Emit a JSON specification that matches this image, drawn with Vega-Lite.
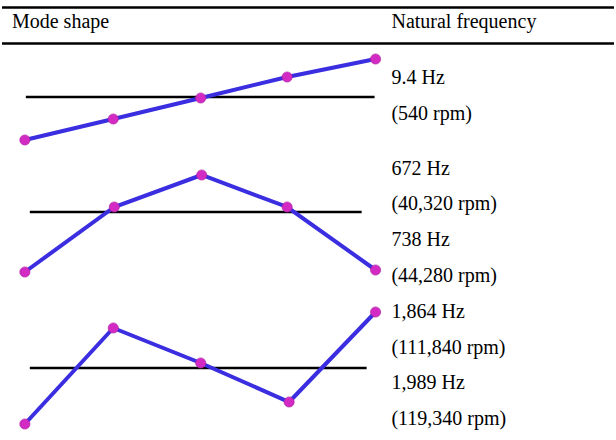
{
  "$schema": "https://vega.github.io/schema/vega-lite/v6.json",
  "width": 616,
  "height": 440,
  "padding": 0,
  "autosize": {"type": "fit", "contains": "padding"},
  "background": "white",
  "config": {"view": {"stroke": null}},
  "datasets": {
    "tableRules": [
      {"x": 0, "x2": 616, "y": 7.5},
      {"x": 0, "x2": 616, "y": 43.5}
    ],
    "zeroLines": [
      {"mode": 1, "x": 24, "x2": 375, "y": 97},
      {"mode": 2, "x": 28, "x2": 362, "y": 212},
      {"mode": 3, "x": 28, "x2": 367, "y": 368}
    ],
    "shapes": [
      {"mode": 1, "node": 1, "x": 23, "y": 140},
      {"mode": 1, "node": 2, "x": 112, "y": 119},
      {"mode": 1, "node": 3, "x": 200, "y": 98},
      {"mode": 1, "node": 4, "x": 287, "y": 77},
      {"mode": 1, "node": 5, "x": 376, "y": 59},
      {"mode": 2, "node": 1, "x": 23, "y": 272},
      {"mode": 2, "node": 2, "x": 113, "y": 207},
      {"mode": 2, "node": 3, "x": 201, "y": 175},
      {"mode": 2, "node": 4, "x": 287, "y": 207},
      {"mode": 2, "node": 5, "x": 376, "y": 270},
      {"mode": 3, "node": 1, "x": 23, "y": 424},
      {"mode": 3, "node": 2, "x": 112, "y": 328},
      {"mode": 3, "node": 3, "x": 200, "y": 363},
      {"mode": 3, "node": 4, "x": 289, "y": 402},
      {"mode": 3, "node": 5, "x": 376, "y": 312}
    ],
    "labels": [
      {"label": "Mode shape", "x": 10, "y": 28},
      {"label": "Natural frequency", "x": 392, "y": 28},
      {"label": "9.4 Hz", "x": 392, "y": 84},
      {"label": "(540 rpm)", "x": 392, "y": 120},
      {"label": "672 Hz", "x": 392, "y": 175},
      {"label": "(40,320 rpm)", "x": 392, "y": 210},
      {"label": "738 Hz", "x": 392, "y": 246},
      {"label": "(44,280 rpm)", "x": 392, "y": 282},
      {"label": "1,864 Hz", "x": 392, "y": 318},
      {"label": "(111,840 rpm)", "x": 392, "y": 354},
      {"label": "1,989 Hz", "x": 392, "y": 389},
      {"label": "(119,340 rpm)", "x": 392, "y": 425}
    ]
  },
  "layer": [
    {
      "data": {"name": "tableRules"},
      "mark": {"type": "rule", "color": "black", "strokeWidth": 2.5},
      "encoding": {
        "x": {"field": "x", "type": "quantitative", "scale": {"domain": [0, 616], "nice": false, "zero": false}, "axis": null},
        "x2": {"field": "x2"},
        "y": {"field": "y", "type": "quantitative", "scale": {"domain": [440, 0], "nice": false, "zero": false}, "axis": null}
      }
    },
    {
      "data": {"name": "zeroLines"},
      "mark": {"type": "rule", "color": "black", "strokeWidth": 2.5},
      "encoding": {
        "x": {"field": "x", "type": "quantitative"},
        "x2": {"field": "x2"},
        "y": {"field": "y", "type": "quantitative"}
      }
    },
    {
      "data": {"name": "shapes"},
      "mark": {"type": "line", "color": "#3a2ee0", "strokeWidth": 4},
      "encoding": {
        "x": {"field": "x", "type": "quantitative"},
        "y": {"field": "y", "type": "quantitative"},
        "detail": {"field": "mode", "type": "nominal"},
        "order": {"field": "node", "type": "quantitative"}
      }
    },
    {
      "data": {"name": "shapes"},
      "mark": {"type": "point", "shape": "circle", "filled": true, "color": "#d42ac4", "opacity": 1, "size": 105, "stroke": "#a8209e", "strokeWidth": 0.6},
      "encoding": {
        "x": {"field": "x", "type": "quantitative"},
        "y": {"field": "y", "type": "quantitative"}
      }
    },
    {
      "data": {"name": "labels"},
      "mark": {"type": "text", "align": "left", "baseline": "alphabetic", "font": "Liberation Serif", "fontSize": 20, "color": "black"},
      "encoding": {
        "x": {"field": "x", "type": "quantitative"},
        "y": {"field": "y", "type": "quantitative"},
        "text": {"field": "label", "type": "nominal"}
      }
    }
  ]
}
